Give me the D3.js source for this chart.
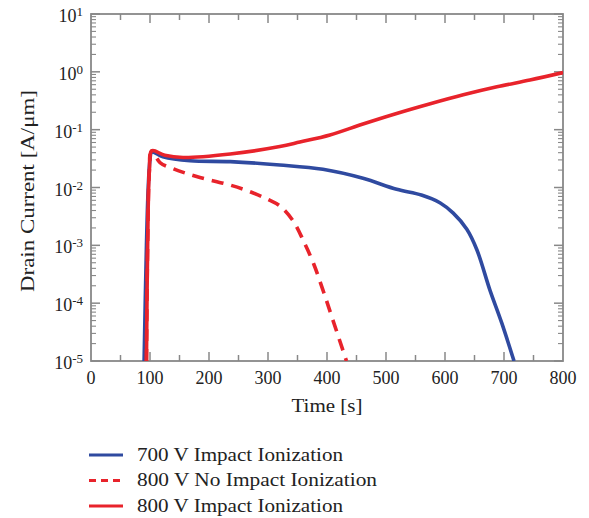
<!DOCTYPE html>
<html><head><meta charset="utf-8">
<script src="https://cdn.jsdelivr.net/npm/d3@7"></script>
<style>body{margin:0;background:#fff}svg{display:block}</style>
</head><body>
<svg id="c" width="589" height="518"></svg>
<script>
const xTicks = [0,100,200,300,400,500,600,700,800];
const yExps = [-5,-4,-3,-2,-1,0,1];

const blue700 = [[90,1e-5],[94,1e-3],[97,0.01],[100,0.03],[103,0.041],[122,0.034],[168,0.029],[236,0.028],[320,0.0245],[393,0.0206],[461,0.0144],[518,0.0093],[560,0.0074],[592,0.0054],[614,0.0036],[637,0.0019],[654,0.00084],[676,0.00017],[696,0.000046],[717,1e-5]];
const red800No = [[94,1e-5],[96,1e-3],[99,0.02],[103,0.043],[117,0.027],[140,0.021],[179,0.0155],[236,0.011],[269,0.0085],[300,0.0062],[320,0.0048],[343,0.0026],[360,0.0012],[377,0.00049],[393,0.00017],[410,0.000051],[433,1e-5]];
const red800 = [[94,1e-5],[96,1e-3],[99,0.02],[103,0.043],[125,0.036],[156,0.033],[236,0.038],[320,0.051],[354,0.061],[405,0.081],[461,0.125],[518,0.19],[575,0.28],[631,0.40],[688,0.55],[744,0.72],[800,0.97]];

const series = [
  {name:"700 V Impact Ionization", data:blue700, color:"#2f4aa0", dash:null, w:206},
  {name:"800 V No Impact Ionization", data:red800No, color:"#e8232b", dash:"12,8", w:240},
  {name:"800 V Impact Ionization", data:red800, color:"#e8232b", dash:null, w:206}
];

const svg = d3.select("#c");
const L=91, R=563, T=14, B=361;
const x = d3.scaleLinear().domain([0,800]).range([L,R]);
const y = d3.scaleLog().domain([1e-5,10]).range([B,T]);
const axisColor="#888";
const font="'Liberation Serif', 'DejaVu Serif', serif";
const txt="#222";

svg.append("clipPath").attr("id","clip").append("rect").attr("x",L).attr("y",T).attr("width",R-L).attr("height",B-T);

// ticks
const g = svg.append("g").attr("stroke",axisColor).attr("stroke-width",1.5);
for(let t=50;t<800;t+=50){
  const len = (t%100===0)?9:6;
  g.append("line").attr("x1",x(t)).attr("x2",x(t)).attr("y1",B).attr("y2",B-len);
  g.append("line").attr("x1",x(t)).attr("x2",x(t)).attr("y1",T).attr("y2",T+len);
}
for(let e=-5;e<=1;e++){
  for(let m=1;m<=9;m++){
    const v=m*Math.pow(10,e);
    if(v>10) break;
    const len = m===1?9:5;
    const yy=y(v);
    g.append("line").attr("x1",L).attr("x2",L+len).attr("y1",yy).attr("y2",yy).attr("stroke-width",m===1?1.5:1.1);
    g.append("line").attr("x1",R).attr("x2",R-len).attr("y1",yy).attr("y2",yy).attr("stroke-width",m===1?1.5:1.1);
  }
}
svg.append("rect").attr("x",L).attr("y",T).attr("width",R-L).attr("height",B-T)
  .attr("fill","none").attr("stroke",axisColor).attr("stroke-width",1.8);

// curves
const line = d3.line().x(d=>x(d[0])).y(d=>y(d[1])).curve(d3.curveCatmullRom.alpha(0.5));
const cg = svg.append("g").attr("clip-path","url(#clip)");
series.forEach(s=>{
  cg.append("path").attr("d",line(s.data)).attr("fill","none").attr("stroke",s.color)
    .attr("stroke-width",3.6).attr("stroke-dasharray",s.dash).attr("stroke-linejoin","round");
});

// x tick labels
svg.append("g").selectAll("text").data(xTicks).join("text")
  .attr("x",d=>x(d)).attr("y",384).attr("text-anchor","middle")
  .attr("font-family",font).attr("font-size",18).attr("fill",txt).text(d=>d);

// y tick labels
const yl = svg.append("g").selectAll("text").data(yExps).join("text")
  .attr("x",83).attr("y",d=>y(Math.pow(10,d))+8).attr("text-anchor","end")
  .attr("font-family",font).attr("font-size",18).attr("fill",txt);
yl.append("tspan").text("10");
yl.append("tspan").attr("dy",-6).attr("font-size",13).text(d=>d);

// axis titles
svg.append("text").attr("x",327).attr("y",412).attr("text-anchor","middle")
  .attr("font-family",font).attr("font-size",19).attr("fill",txt)
  .attr("textLength",71).attr("lengthAdjust","spacingAndGlyphs").text("Time [s]");
svg.append("text").attr("transform","translate(34,191) rotate(-90)").attr("text-anchor","middle")
  .attr("font-family",font).attr("font-size",19).attr("fill",txt)
  .attr("textLength",202).attr("lengthAdjust","spacingAndGlyphs").text("Drain Current [A/μm]");

// legend
const lg = svg.append("g");
series.forEach((s,i)=>{
  const yy = 455 + i*25.5;
  lg.append("line").attr("x1",89).attr("x2",123).attr("y1",yy).attr("y2",yy)
    .attr("stroke",s.color).attr("stroke-width",3).attr("stroke-dasharray",s.dash?"7,5":null);
  lg.append("text").attr("x",137).attr("y",yy+5.5).attr("font-family",font).attr("font-size",19)
    .attr("fill",txt).attr("textLength",s.w).attr("lengthAdjust","spacingAndGlyphs").text(s.name);
});
</script>
</body></html>
